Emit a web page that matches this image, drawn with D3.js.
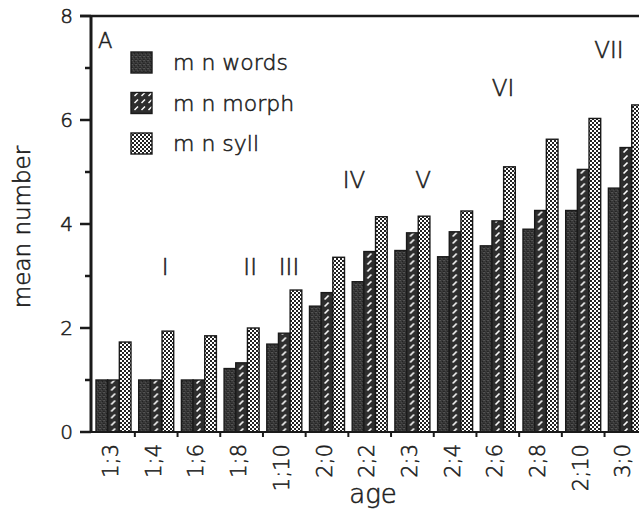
<!DOCTYPE html>
<html><head><meta charset="utf-8">
<script src="https://cdn.jsdelivr.net/npm/d3@7"></script>
<style>
html,body{margin:0;padding:0;background:#fff;}
svg text{font-family:"DejaVu Sans",sans-serif;font-weight:200;fill:#1e1e1e;stroke:#1e1e1e;stroke-width:0.55px;}
</style></head>
<body><svg id="c" width="639" height="519"></svg>
<script>
const categories = ["1;3","1;4","1;6","1;8","1;10","2;0","2;2","2;3","2;4","2;6","2;8","2;10","3;0"];
const wordsValues = [1.0,1.0,1.0,1.22,1.69,2.42,2.89,3.49,3.37,3.58,3.90,4.26,4.69];
const morphValues = [1.0,1.0,1.0,1.33,1.90,2.68,3.47,3.83,3.85,4.06,4.26,5.05,5.47];
const syllValues  = [1.73,1.94,1.85,2.0,2.73,3.36,4.14,4.15,4.25,5.10,5.63,6.03,6.29];
const seriesNames = ["m n words","m n morph","m n syll"];
const yTicks = [0,2,4,6,8];
const yMinorTicks = [1,3,5,7];
const stageLabels = ["I","II","III","IV","V","VI","VII"];
const stagePos = [1.21,3.20,4.11,5.63,7.25,9.12,11.6];
const stageY = [3.17,3.17,3.17,4.85,4.85,6.63,7.35];

const svg = d3.select("#c");
const plotLeft = 91, plotBottom = 432, plotTop = 16;
const x = d3.scaleBand().domain(categories).range([plotLeft, 648.4]).paddingInner(0.18).paddingOuter(0.117);
const y = d3.scaleLinear().domain([0,8]).range([plotBottom, plotTop]);
const keys = ["words","morph","syll"];
const xs = d3.scaleBand().domain(keys).range([0, x.bandwidth()]);
const data = categories.map((c,i)=>({cat:c, words:wordsValues[i], morph:morphValues[i], syll:syllValues[i]}));

// patterns
const defs = svg.append("defs");
const pw = defs.append("pattern").attr("id","pWords").attr("patternUnits","userSpaceOnUse").attr("width",4).attr("height",4);
pw.append("rect").attr("width",4).attr("height",4).attr("fill","#383838");
[[0,0,"#555"],[2,1,"#222"],[1,2,"#4a4a4a"],[3,3,"#262626"],[3,0,"#505050"],[0,3,"#2b2b2b"]].forEach(p=>
  pw.append("rect").attr("x",p[0]).attr("y",p[1]).attr("width",1).attr("height",1).attr("fill",p[2]));

const mx0 = x(categories[0]) + xs("morph");
const pm = defs.append("pattern").attr("id","pMorph").attr("patternUnits","userSpaceOnUse")
  .attr("x", mx0).attr("y", 0).attr("width", x.step()).attr("height",7);
pm.append("rect").attr("width",x.step()).attr("height",7).attr("fill","#2e2e2e");
pm.append("line").attr("x1",3.5).attr("y1",5.5).attr("x2",7.5).attr("y2",1.5).attr("stroke","#fff").attr("stroke-width",1.7);

const pml = defs.append("pattern").attr("id","pMorphL").attr("patternUnits","userSpaceOnUse").attr("width",7).attr("height",7);
pml.append("rect").attr("width",7).attr("height",7).attr("fill","#2e2e2e");
pml.append("line").attr("x1",1.5).attr("y1",5).attr("x2",5).attr("y2",1.5).attr("stroke","#fff").attr("stroke-width",1.5);

const ps = defs.append("pattern").attr("id","pSyll").attr("patternUnits","userSpaceOnUse").attr("width",4).attr("height",4);
ps.append("rect").attr("width",4).attr("height",4).attr("fill","#222");
ps.append("rect").attr("x",0).attr("y",0).attr("width",2).attr("height",2).attr("fill","#fff");
ps.append("rect").attr("x",2).attr("y",2).attr("width",2).attr("height",2).attr("fill","#fff");

const fills = {words:"url(#pWords)", morph:"url(#pMorph)", syll:"url(#pSyll)"};
const legendFills = ["url(#pWords)","url(#pMorphL)","url(#pSyll)"];

// bars
const g = svg.append("g");
data.forEach(d=>{
  keys.forEach(k=>{
    g.append("rect")
      .attr("x", x(d.cat)+xs(k)).attr("width", xs.bandwidth())
      .attr("y", y(d[k])).attr("height", y(0)-y(d[k]))
      .attr("fill", fills[k]).attr("stroke","#1a1a1a").attr("stroke-width",1.4);
  });
});

// axes lines
svg.append("line").attr("x1",80).attr("x2",639).attr("y1",y(8)).attr("y2",y(8)).attr("stroke","#1a1a1a").attr("stroke-width",2.5);
svg.append("line").attr("x1",plotLeft).attr("x2",plotLeft).attr("y1",y(8)).attr("y2",y(0)).attr("stroke","#1a1a1a").attr("stroke-width",3);
svg.append("line").attr("x1",plotLeft).attr("x2",639).attr("y1",y(0)).attr("y2",y(0)).attr("stroke","#1a1a1a").attr("stroke-width",2);

// y ticks
yTicks.forEach(t=>{
  svg.append("line").attr("x1",80).attr("x2",plotLeft).attr("y1",y(t)).attr("y2",y(t)).attr("stroke","#1a1a1a").attr("stroke-width",2.5);
  svg.append("text").attr("x",73).attr("y",y(t)).attr("dy","0.36em").attr("text-anchor","end").attr("font-size",20).text(t);
});
yMinorTicks.forEach(t=>{
  svg.append("line").attr("x1",85).attr("x2",plotLeft).attr("y1",y(t)).attr("y2",y(t)).attr("stroke","#1a1a1a").attr("stroke-width",2.5);
});

// x ticks between groups
const gap = x.step()*x.paddingInner()/2;
categories.slice(1).forEach(c=>{
  const tx = x(c)-gap;
  svg.append("line").attr("x1",tx).attr("x2",tx).attr("y1",y(0)).attr("y2",y(0)+5).attr("stroke","#1a1a1a").attr("stroke-width",2);
});
categories.forEach(c=>{
  const cx = x(c)+x.bandwidth()/2-3;
  svg.append("text").attr("transform",`translate(${cx},${y(0)+12}) rotate(-90)`)
    .attr("dy","0.36em").attr("text-anchor","end").attr("font-size",21).text(c);
});

// axis titles
svg.append("text").attr("transform",`translate(22,${(y(0)+y(8))/2+3}) rotate(-90)`).attr("dy","0.36em")
  .attr("text-anchor","middle").attr("font-size",23).text("mean number");
svg.append("text").attr("x",373).attr("y",503).attr("text-anchor","middle").attr("font-size",26).text("age");

// panel label
svg.append("text").attr("x",plotLeft+7).attr("y",48).attr("font-size",21).text("A");

// legend
seriesNames.forEach((n,i)=>{
  const ly = 52 + i*40.5;
  svg.append("rect").attr("x",131).attr("y",ly).attr("width",21).attr("height",21)
    .attr("fill",legendFills[i]).attr("stroke","#1a1a1a").attr("stroke-width",1.4);
  svg.append("text").attr("x",173).attr("y",ly+10.5).attr("dy","0.36em").attr("font-size",22).text(n);
});

// stage labels
const xi = d3.scaleLinear().domain([0,1]).range([x(categories[0])+x.bandwidth()/2, x(categories[1])+x.bandwidth()/2]);
stageLabels.forEach((s,i)=>{
  svg.append("text").attr("x",xi(stagePos[i])).attr("y",y(stageY[i])).attr("dy","0.36em")
    .attr("text-anchor","middle").attr("font-size",23).text(s);
});
</script></body></html>
